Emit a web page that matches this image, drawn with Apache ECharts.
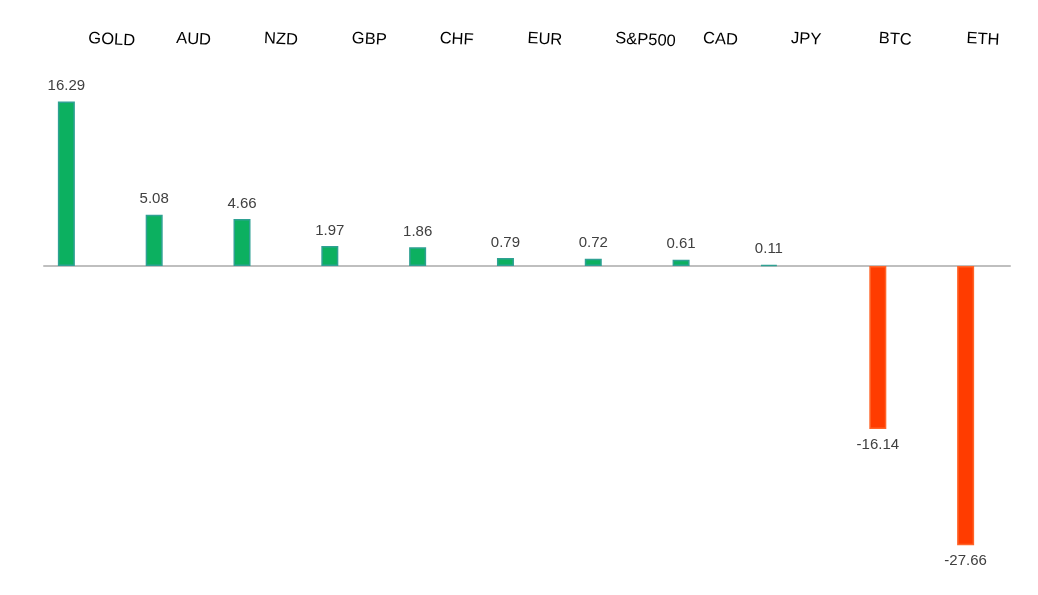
<!DOCTYPE html>
<html>
<head>
<meta charset="utf-8">
<script src="https://cdn.jsdelivr.net/npm/echarts@6/dist/echarts.min.js"></script>
<style>html,body{margin:0;padding:0;background:#fff}#c{width:1038px;height:595px}</style>
</head>
<body>
<div id="c"></div>
<script>
var categories = ['GOLD','AUD','NZD','GBP','CHF','EUR','S&P500','CAD','JPY','BTC','ETH'];
var gains  = [16.29, 5.08, 4.66, 1.97, 1.86, 0.79, 0.72, 0.61, 0.11, null, null];
var losses = [null, null, null, null, null, null, null, null, null, -16.14, -27.66];

var chart = echarts.init(document.getElementById('c'), null, {renderer: 'canvas'});
var labelFont = {fontFamily: 'Liberation Sans', fontSize: 15, color: '#404040'};
chart.setOption({
  animation: false,
  grid: [
    {left: 33, right: 39, top: 64, bottom: 26},
    {left: 44, right: 28, top: 64, bottom: 26}
  ],
  xAxis: [
    {type: 'category', data: categories, gridIndex: 0, show: false, axisLine: {onZero: false}},
    {type: 'category', data: categories, gridIndex: 1, position: 'top',
     axisLine: {show: false, onZero: false}, axisTick: {show: false}, splitLine: {show: false},
     axisLabel: {show: true, interval: 0, rotate: 3, align: 'left', verticalAlign: 'bottom', margin: 17,
       fontFamily: 'Liberation Sans', fontSize: 16.5, color: '#000'}},
    {type: 'category', data: categories, gridIndex: 1, position: 'bottom',
     axisLine: {show: true, onZero: true, lineStyle: {color: '#bfbfbf', width: 2}},
     axisTick: {show: false}, axisLabel: {show: false}, splitLine: {show: false}}
  ],
  yAxis: [
    {type: 'value', gridIndex: 0, min: -30, max: 20, show: false, splitLine: {show: false}},
    {type: 'value', gridIndex: 1, min: -30, max: 20, show: false, splitLine: {show: false}}
  ],
  series: [
    {type: 'bar', xAxisIndex: 0, yAxisIndex: 0, data: gains, barWidth: 17, barGap: '24%',
     itemStyle: {color: '#0cb060', borderColor: '#2fa193', borderWidth: 1.5},
     label: Object.assign({show: true, position: 'top', distance: 8}, labelFont), z: 1},
    {type: 'bar', xAxisIndex: 0, yAxisIndex: 0, data: losses, barWidth: 17, barGap: '24%',
     itemStyle: {color: '#ff3c00', borderColor: '#ff6428', borderWidth: 1.5},
     label: Object.assign({show: true, position: 'bottom', distance: 8}, labelFont), z: 1}
  ]
});
</script>
</body>
</html>
